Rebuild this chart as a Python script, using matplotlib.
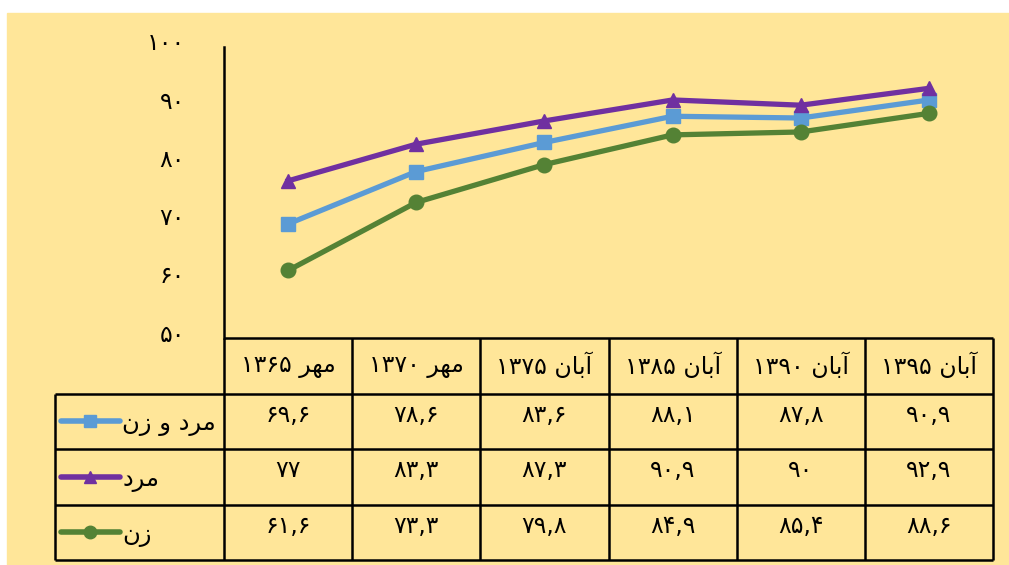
import numpy as np
import matplotlib
matplotlib.use('Agg')
import matplotlib.pyplot as plt
from matplotlib.patches import Rectangle
from matplotlib.ticker import FuncFormatter
from matplotlib.transforms import ScaledTranslation

plt.rcParams['font.family'] = ['DejaVu Sans']

# data (literacy rate, percent)
months = ['مهر', 'مهر', 'آبان', 'آبان', 'آبان', 'آبان']
years = [1365, 1370, 1375, 1385, 1390, 1395]
series_names = ['مرد و زن', 'مرد', 'زن']
both = [69.6, 78.6, 83.6, 88.1, 87.8, 90.9]
men = [77, 83.3, 87.3, 90.9, 90, 92.9]
women = [61.6, 73.3, 79.8, 84.9, 85.4, 88.6]
y_ticks = [50, 60, 70, 80, 90, 100]

colors = ['#5B9BD5', '#7030A0', '#548235']
markers = ['s', '^', 'o']
bg = '#FFE699'

# minimal arabic shaping (presentation forms) since matplotlib does no shaping
FORMS = {
    'ا': ('\uFE8D', '\uFE8E', None, None),
    'آ': ('\uFE81', '\uFE82', None, None),
    'ب': ('\uFE8F', '\uFE90', '\uFE91', '\uFE92'),
    'د': ('\uFEA9', '\uFEAA', None, None),
    'ر': ('\uFEAD', '\uFEAE', None, None),
    'ز': ('\uFEAF', '\uFEB0', None, None),
    'م': ('\uFEE1', '\uFEE2', '\uFEE3', '\uFEE4'),
    'ن': ('\uFEE5', '\uFEE6', '\uFEE7', '\uFEE8'),
    'ه': ('\uFEE9', '\uFEEA', '\uFEEB', '\uFEEC'),
    'و': ('\uFEED', '\uFEEE', None, None),
}


def shape(text):
    out = []
    for i, ch in enumerate(text):
        if ch not in FORMS:
            out.append(ch)
            continue
        prev = text[i - 1] if i > 0 else ''
        nxt = text[i + 1] if i + 1 < len(text) else ''
        jp = prev in FORMS and FORMS[prev][2] is not None
        jn = FORMS[ch][2] is not None and nxt in FORMS
        iso, fin, ini, med = FORMS[ch]
        if jp and jn:
            out.append(med)
        elif jp:
            out.append(fin)
        elif jn:
            out.append(ini)
        else:
            out.append(iso)
    return ''.join(reversed(out))


def to_fa(s):
    return str(s).translate(str.maketrans('0123456789', '۰۱۲۳۴۵۶۷۸۹'))


def fmt_val(v):
    return to_fa(('%g' % v).replace('.', ','))


W, H = 1009, 565
fs = 17
fig = plt.figure(figsize=(W / 100, H / 100), dpi=100)
fig.patch.set_facecolor('white')
fig.patches.append(Rectangle((7 / W, 0), 1 - 7 / W, (H - 13) / H,
                             transform=fig.transFigure, color=bg, zorder=-10))

# pixel frame of plot and table
x_axis, x_right, x_leg = 224, 993, 55
y_top, y_base, y_tab_bot = 47, 338, 560

ax = fig.add_axes([x_axis / W, 1 - y_base / H, (x_right - x_axis) / W, (y_base - y_top) / H])
ax.set_facecolor('none')
x = np.arange(len(years))
for vals, c, m in zip([both, men, women], colors, markers):
    ax.plot(x, vals, color=c, lw=3.8, marker=m, ms=10.5, mec=c, mfc=c, clip_on=False)
ax.set_xlim(-0.5, len(years) - 0.5)
ax.set_ylim(y_ticks[0], y_ticks[-1])
ax.set_yticks(y_ticks)
ax.yaxis.set_major_formatter(FuncFormatter(lambda v, p: to_fa(int(v))))
ax.tick_params(axis='y', length=0, pad=28, labelsize=fs)
for lab in ax.get_yticklabels():
    lab.set_transform(lab.get_transform() + ScaledTranslation(0, 0.06, fig.dpi_scale_trans))
ax.set_xticks([])
for s in ['top', 'right', 'bottom']:
    ax.spines[s].set_visible(False)
ax.spines['left'].set_linewidth(1.8)

# data table under the plot
L = (x_axis - x_leg) / (x_right - x_axis) * len(years)
tab = fig.add_axes([x_leg / W, 1 - y_tab_bot / H, (x_right - x_leg) / W, (y_tab_bot - y_base) / H])
tab.set_facecolor('none')
tab.set_xlim(-0.5 - L, len(years) - 0.5)
tab.set_ylim(4, 0)
tab.axis('off')
lw = 1.8
tab.hlines(0, -0.5, len(years) - 0.5, color='black', lw=lw, clip_on=False)
tab.hlines([1, 2, 3, 4], -0.5 - L, len(years) - 0.5, color='black', lw=lw, clip_on=False)
tab.vlines(-0.5 - L, 1, 4, color='black', lw=lw, clip_on=False)
tab.vlines(np.arange(len(years) + 1) - 0.5, 0, 4, color='black', lw=lw, clip_on=False)

for i, (mo, yr) in enumerate(zip(months, years)):
    tab.text(i, 0.5, to_fa(yr) + ' ' + shape(mo), ha='center', va='center', fontsize=fs)

for r, (name, vals, c, m) in enumerate(zip(series_names, [both, men, women], colors, markers), start=1):
    for i, v in enumerate(vals):
        tab.text(i, r + 0.38, fmt_val(v), ha='center', va='center', fontsize=fs)
    k0 = -0.5 - L + 0.045
    k1 = k0 + 0.46
    tab.plot([k0, k1], [r + 0.5, r + 0.5], color=c, lw=4, solid_capstyle='round')
    tab.plot([(k0 + k1) / 2], [r + 0.5], marker=m, ms=9, color=c)
    tab.text(k1 + 0.02, r + 0.55, shape(name), ha='left', va='center', fontsize=17.5)

fig.savefig('out.png', dpi=100)
